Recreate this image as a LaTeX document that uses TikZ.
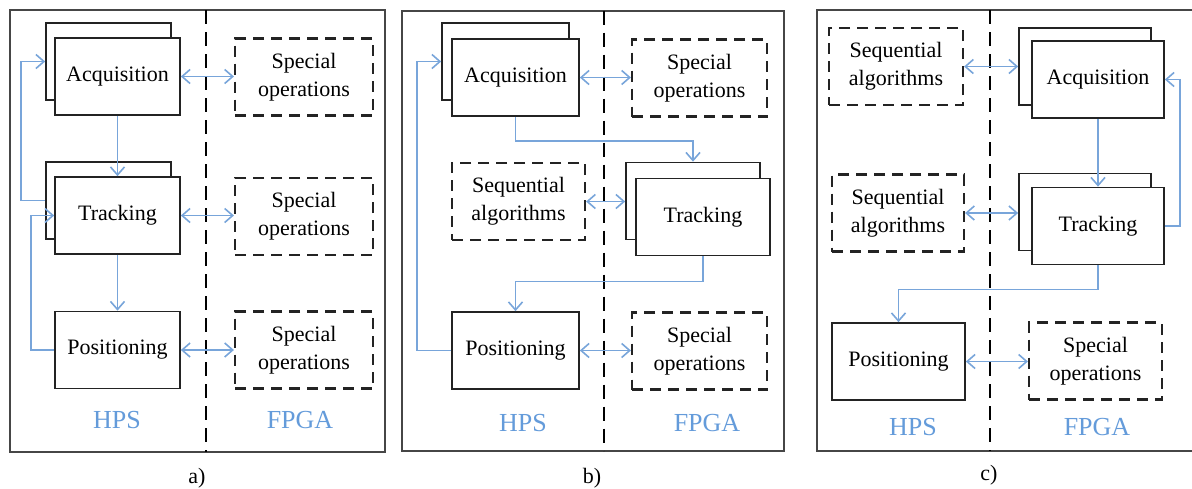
\documentclass[tikz,border=0pt]{standalone}
\usepackage{fontspec}
\setmainfont{Liberation Serif}
\usepackage{tikz}
\usetikzlibrary{arrows.meta}
\usepackage{xcolor}
\definecolor{linkblue}{RGB}{120,165,218}
\definecolor{tagblue}{RGB}{100,155,218}
\definecolor{edgegray}{RGB}{35,35,35}
\definecolor{framegray}{RGB}{70,70,70}

\begin{document}
\begin{tikzpicture}[x=1pt,y=-1pt,font=\fontsize{22}{28}\selectfont,
  >={Straight Barb[length=8pt,width=14pt]},
  task/.style={draw=edgegray,line width=1.7pt,fill=white,minimum width=#1,minimum height=77,inner sep=0pt,align=center},
  task/.default=128,
  extra/.style={task=#1,line width=2.2pt,dash pattern=on 11pt off 7pt},
  extra/.default=134,
  link/.style={linkblue,line width=1.6pt},
  tag/.style={text=tagblue,font=\fontsize{26}{30}\selectfont},
  frame/.style={draw=framegray,line width=1.6pt},
  split/.style={black,line width=2.1pt,dash pattern=on 14pt off 8pt}]
\useasboundingbox (0,0) rectangle (1192,488);
% panel frames and HPS / FPGA split
\foreach \lx/\ty/\rx/\by/\mx in {10/10/385/452/205.7, 401.7/10.7/784/450.7/604, 816.7/10/1198/450.7/990}{
  \draw[frame] (\lx,\ty) rectangle (\rx,\by);
  \draw[split] (\mx,\ty) -- (\mx,\by);}
\foreach \hx/\fx/\ly/\p/\cx/\cy in {117/300/420/a/197/478, 523/707/423/b/592/478, 913/1097/427/c/989/475}{
  \node[tag] (\p hps) at (\hx,\ly) {HPS};
  \node[tag] (\p fpga) at (\fx,\ly) {FPGA};
  \node[font=\fontsize{22}{26}\selectfont] (\p cap) at (\cx,\cy) {\p)};}

% a)
\node[task=125] (aAcqB) at (108.5,61.5) {};
\node[task=125] (aAcq) at (117.5,76.5) {Acquisition};
\node[task=125] (aTrkB) at (108.5,200.5) {};
\node[task=125] (aTrk) at (117.5,215.5) {Tracking};
\node[task=125] (aPos) at (117.5,350) {Positioning};
\node[extra=138] (aSp1) at (304,77) {Special\\operations};
\node[extra=138] (aSp2) at (304,216.5) {Special\\operations};
\node[extra=138] (aSp3) at (304,350) {Special\\operations};
\draw[link,<->] (aAcq.east) -- (aAcq.east -| aSp1.west);
\draw[link,<->] (aTrk.east) -- (aTrk.east -| aSp2.west);
\draw[link,<->] (aPos.east) -- (aPos.east -| aSp3.west);
\draw[link,->] (aAcq.south) -- (aTrk.north);
\draw[link,->] (aTrk.south) -- (aPos.north);
\draw[link,->] (aTrkB.west) -- ++(-24,0) |- (aAcqB.west);
\draw[link,->] (aPos.west) -- ++(-23,0) |- (aTrk.west);

% b)
\node[task=127] (bAcqB) at (505.5,61.5) {};
\node[task=127] (bAcq) at (515.5,77.5) {Acquisition};
\node[extra=135] (bSp1) at (699.5,78) {Special\\operations};
\node[extra=133] (bSeq) at (518.5,201.5) {Sequential\\algorithms};
\node[task=134] (bTrkB) at (693,201) {};
\node[task=134] (bTrk) at (703,217) {Tracking};
\node[task=127] (bPos) at (515.5,350.5) {Positioning};
\node[extra=135] (bSp2) at (699.5,351) {Special\\operations};
\draw[link,<->] (bAcq.east) -- (bAcq.east -| bSp1.west);
\draw[link,->] (bAcq.south) -- ++(0,24.3) -| (bTrkB.north);
\draw[link,<->] (bSeq.east) -- (bSeq.east -| bTrkB.west);
\draw[link,->] (bTrk.south) -- ++(0,25) -| (bPos.north);
\draw[link,->] (bPos.west) -- ++(-34,0) |- (bAcqB.west);
\draw[link,<->] (bPos.east) -- (bPos.east -| bSp2.west);

% c)
\node[extra=134] (cSeq1) at (896,66.5) {Sequential\\algorithms};
\node[task=132] (cAcqB) at (1085,66.5) {};
\node[task=132] (cAcq) at (1098,79.5) {Acquisition};
\node[extra=132] (cSeq2) at (898,213) {Sequential\\algorithms};
\node[task=132] (cTrkB) at (1085,212) {};
\node[task=132] (cTrk) at (1098,226) {Tracking};
\node[task=133] (cPos) at (898.5,361.5) {Positioning};
\node[extra=133] (cSp) at (1095.5,361) {Special\\operations};
\draw[link,<->] (cSeq1.east) -- (cSeq1.east -| cAcqB.west);
\draw[link,->] (cAcq.south) -- (cTrk.north);
\draw[link,<->] (cSeq2.east) -- (cSeq2.east -| cTrkB.west);
\draw[link,->] (cTrk.east) -- ++(15,0) |- (cAcq.east);
\draw[link,->] (cTrk.south) -- ++(0,24) -| (cPos.north);
\draw[link,<->] (cPos.east) -- (cPos.east -| cSp.west);
\end{tikzpicture}
\end{document}
